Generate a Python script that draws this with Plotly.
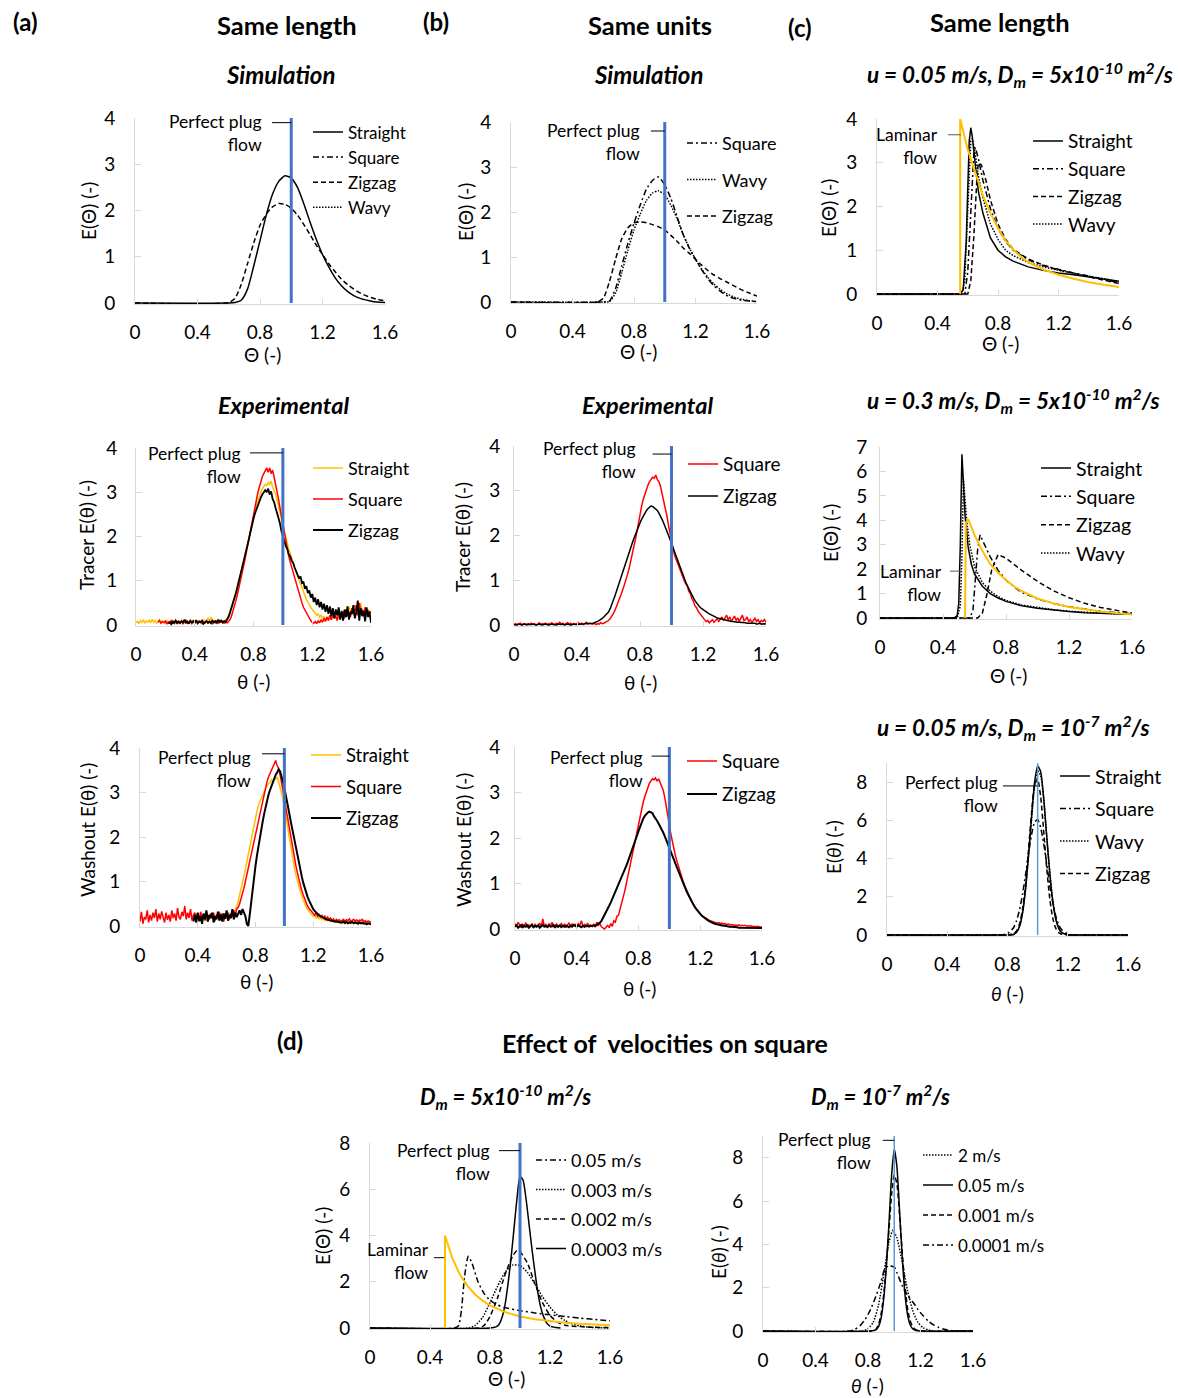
import plotly.graph_objects as go

W, H = 1178, 1398
FONT = "Lato"

THETA_TICKS = [0, 0.4, 0.8, 1.2, 1.6]
THETA_TICK_TEXT = ["0", "0.4", "0.8", "1.2", "1.6"]
PLUG_THETA = 1.0

# ---------------- (a) simulation ----------------
A1_X = [0, 0.60, 0.64, 0.68, 0.72, 0.76, 0.80, 0.84, 0.88, 0.92, 0.96, 1.00, 1.04, 1.08, 1.12,
        1.16, 1.20, 1.24, 1.28, 1.32, 1.36, 1.40, 1.45, 1.50, 1.55, 1.60]
A1_STRAIGHT = [0, 0, 0.01, 0.06, 0.30, 0.80, 1.35, 1.90, 2.35, 2.63, 2.75, 2.70, 2.50, 2.15, 1.75,
               1.38, 1.05, 0.78, 0.55, 0.38, 0.25, 0.16, 0.09, 0.05, 0.02, 0.01]
A1_ZIGZAG = [0, 0.01, 0.10, 0.40, 0.85, 1.30, 1.68, 1.92, 2.08, 2.15, 2.13, 2.05, 1.90, 1.70, 1.48,
             1.25, 1.05, 0.85, 0.68, 0.52, 0.40, 0.30, 0.20, 0.13, 0.08, 0.05]

# ---------------- (b) simulation ----------------
B1_X = A1_X
B1_SQUARE = [0, 0, 0.02, 0.30, 0.80, 1.30, 1.75, 2.15, 2.50, 2.70, 2.78, 2.60, 2.30, 1.90, 1.50,
             1.20, 0.95, 0.72, 0.52, 0.36, 0.24, 0.15, 0.08, 0.04, 0.02, 0.01]
B1_WAVY = [0, 0, 0.01, 0.20, 0.65, 1.15, 1.60, 1.95, 2.25, 2.42, 2.47, 2.38, 2.15, 1.85, 1.50,
           1.20, 0.95, 0.73, 0.55, 0.40, 0.28, 0.19, 0.11, 0.06, 0.03, 0.01]
B1_ZIGZAG_X = [0, 0.56, 0.60, 0.64, 0.68, 0.72, 0.76, 0.80, 0.84, 0.88, 0.92, 0.96, 1.00, 1.04,
               1.08, 1.12, 1.16, 1.20, 1.24, 1.28, 1.32, 1.36, 1.40, 1.45, 1.50, 1.55, 1.60]
B1_ZIGZAG = [0, 0, 0.08, 0.45, 0.95, 1.40, 1.65, 1.76, 1.78, 1.76, 1.72, 1.67, 1.60, 1.48,
             1.35, 1.20, 1.08, 0.95, 0.82, 0.70, 0.60, 0.52, 0.45, 0.36, 0.27, 0.20, 0.13]

# ---------------- (c) u=0.05, Dm=5e-10 ----------------
C1_STRAIGHT_X = [0, 0.55, 0.57, 0.59, 0.60, 0.61, 0.62, 0.63, 0.65, 0.67, 0.70, 0.75, 0.80, 0.85,
                 0.90, 1.00, 1.10, 1.20, 1.30, 1.40, 1.50, 1.60]
C1_STRAIGHT = [0, 0, 0.10, 1.20, 2.40, 3.50, 3.80, 3.60, 2.95, 2.35, 1.85, 1.28, 1.00, 0.85,
               0.75, 0.62, 0.54, 0.48, 0.44, 0.39, 0.34, 0.29]
C1_SQUARE_X = [0, 0.58, 0.60, 0.62, 0.64, 0.65, 0.67, 0.70, 0.75, 0.80, 0.85, 0.90, 1.00, 1.10,
               1.20, 1.30, 1.40, 1.50, 1.60]
C1_SQUARE = [0, 0, 0.50, 2.00, 3.20, 3.35, 3.10, 2.60, 1.95, 1.50, 1.20, 1.00, 0.78, 0.65,
             0.56, 0.48, 0.41, 0.33, 0.26]
C1_ZIGZAG_X = [0, 0.60, 0.62, 0.64, 0.66, 0.67, 0.69, 0.72, 0.75, 0.80, 0.85, 0.90, 1.00, 1.10,
               1.20, 1.30, 1.40, 1.50, 1.60]
C1_ZIGZAG = [0, 0, 0.30, 1.30, 2.60, 3.00, 2.95, 2.60, 2.15, 1.60, 1.25, 1.02, 0.80, 0.66,
             0.55, 0.47, 0.40, 0.32, 0.24]
C1_WAVY_X = [0, 0.56, 0.58, 0.60, 0.61, 0.62, 0.63, 0.65, 0.67, 0.70, 0.75, 0.80, 0.85, 0.90,
             1.00, 1.10, 1.20, 1.30, 1.40, 1.50, 1.60]
C1_WAVY = [0, 0, 0.30, 1.80, 2.90, 3.50, 3.55, 3.20, 2.70, 2.20, 1.60, 1.25, 1.00, 0.88,
           0.72, 0.62, 0.54, 0.47, 0.41, 0.35, 0.28]
C1_LAMINAR_X = [0.55, 0.55, 0.60, 0.65, 0.70, 0.75, 0.80, 0.85, 0.90, 0.95, 1.00, 1.10, 1.20,
                1.30, 1.40, 1.50, 1.60]
C1_LAMINAR = [0, 4.00, 3.30, 2.75, 2.25, 1.85, 1.50, 1.22, 1.02, 0.86, 0.72, 0.56, 0.44,
              0.35, 0.27, 0.21, 0.16]

# ---------------- (c) u=0.3, Dm=5e-10 ----------------
C2_STRAIGHT_X = [0, 0.47, 0.49, 0.50, 0.51, 0.52, 0.53, 0.54, 0.56, 0.58, 0.60, 0.65, 0.70, 0.75,
                 0.80, 0.90, 1.00, 1.10, 1.20, 1.30, 1.40, 1.50, 1.60]
C2_STRAIGHT = [0, 0, 0.10, 0.60, 3.00, 6.70, 5.50, 4.20, 2.90, 2.20, 1.80, 1.30, 1.00, 0.82,
               0.68, 0.50, 0.40, 0.32, 0.27, 0.22, 0.19, 0.17, 0.15]
C2_SQUARE_X = [0, 0.57, 0.59, 0.61, 0.62, 0.635, 0.65, 0.70, 0.75, 0.80, 0.85, 0.90, 1.00, 1.10,
               1.20, 1.30, 1.40, 1.50, 1.60]
C2_SQUARE = [0, 0, 0.30, 1.80, 2.80, 3.40, 3.20, 2.50, 1.95, 1.55, 1.28, 1.05, 0.78, 0.60,
             0.46, 0.36, 0.28, 0.22, 0.17]
C2_ZIGZAG_X = [0, 0.62, 0.65, 0.68, 0.71, 0.75, 0.80, 0.85, 0.90, 1.00, 1.10, 1.20, 1.30, 1.40,
               1.50, 1.60]
C2_ZIGZAG = [0, 0, 0.20, 1.00, 2.00, 2.60, 2.45, 2.20, 1.95, 1.50, 1.12, 0.83, 0.60, 0.43,
             0.30, 0.20]
C2_WAVY_X = [0, 0.49, 0.51, 0.52, 0.53, 0.54, 0.55, 0.57, 0.60, 0.65, 0.70, 0.75, 0.80, 0.90,
             1.00, 1.10, 1.20, 1.30, 1.40, 1.50, 1.60]
C2_WAVY = [0, 0, 0.50, 2.50, 5.70, 5.00, 4.00, 3.00, 2.10, 1.45, 1.10, 0.88, 0.72, 0.53,
           0.42, 0.34, 0.28, 0.23, 0.20, 0.17, 0.15]
C2_LAMINAR_X = [0.54, 0.545, 0.56, 0.60, 0.65, 0.70, 0.75, 0.80, 0.85, 0.90, 1.00, 1.10, 1.20,
                1.30, 1.40, 1.50, 1.60]
C2_LAMINAR = [0, 3.90, 4.05, 3.40, 2.75, 2.20, 1.85, 1.55, 1.30, 1.10, 0.80, 0.60, 0.45,
              0.35, 0.27, 0.20, 0.14]

# ---------------- (c) u=0.05, Dm=1e-7 ----------------
C3_X = [0, 0.76, 0.80, 0.84, 0.86, 0.88, 0.90, 0.92, 0.94, 0.96, 0.98, 1.00, 1.02, 1.04, 1.06,
        1.08, 1.10, 1.12, 1.14, 1.16, 1.20, 1.25, 1.30, 1.60]
C3_STRAIGHT = [0, 0, 0, 0.03, 0.14, 0.45, 1.15, 2.40, 4.20, 6.20, 8.00, 8.85, 8.55, 7.20, 5.20,
               3.30, 1.80, 0.85, 0.35, 0.12, 0.01, 0, 0, 0]
C3_SQUARE = [0, 0, 0.08, 0.38, 0.75, 1.32, 2.15, 3.17, 4.28, 5.26, 5.90, 6.04, 5.63, 4.80, 3.72,
             2.64, 1.71, 1.01, 0.54, 0.27, 0.05, 0.01, 0, 0]
C3_WAVY = [0, 0, 0, 0.03, 0.15, 0.48, 1.20, 2.45, 4.20, 6.10, 7.80, 8.60, 8.35, 7.10, 5.20,
           3.35, 1.85, 0.90, 0.38, 0.13, 0.01, 0, 0, 0]
C3_ZIGZAG = [0, 0, 0.01, 0.07, 0.21, 0.58, 1.35, 2.66, 4.48, 6.42, 7.84, 8.16, 7.24, 5.47, 3.52,
             1.93, 0.90, 0.36, 0.12, 0.04, 0, 0, 0, 0]

# ---------------- (d) Dm=5e-10 ----------------
D1_U005_X = [0, 0.56, 0.59, 0.61, 0.63, 0.655, 0.68, 0.72, 0.76, 0.80, 0.85, 0.90, 1.00, 1.10,
             1.20, 1.30, 1.40, 1.50, 1.60]
D1_U005 = [0, 0, 0.10, 0.80, 2.20, 3.10, 2.80, 2.00, 1.50, 1.20, 1.00, 0.88, 0.75, 0.65,
           0.57, 0.50, 0.43, 0.37, 0.31]
D1_U0003_X = [0, 0.66, 0.70, 0.75, 0.80, 0.85, 0.90, 0.95, 1.00, 1.05, 1.10, 1.15, 1.20, 1.25,
              1.30, 1.35, 1.40, 1.45, 1.50, 1.60]
D1_U0003 = [0, 0, 0.10, 0.45, 1.10, 1.80, 2.40, 2.72, 2.70, 2.40, 1.90, 1.35, 0.90, 0.55,
            0.32, 0.17, 0.09, 0.04, 0.02, 0]
D1_U0002_X = [0, 0.72, 0.76, 0.80, 0.85, 0.90, 0.95, 0.98, 1.00, 1.05, 1.10, 1.15, 1.20, 1.25,
              1.30, 1.35, 1.40, 1.45, 1.50, 1.60]
D1_U0002 = [0, 0, 0.10, 0.50, 1.30, 2.30, 3.10, 3.35, 3.30, 2.80, 1.90, 1.10, 0.55, 0.25,
            0.12, 0.08, 0.06, 0.04, 0.03, 0.02]
D1_U00003_X = [0, 0.80, 0.84, 0.86, 0.88, 0.90, 0.92, 0.94, 0.96, 0.98, 1.00, 1.02, 1.04, 1.06,
               1.08, 1.10, 1.12, 1.14, 1.16, 1.18, 1.20, 1.24, 1.27]
D1_U00003 = [0, 0, 0.05, 0.15, 0.45, 1.00, 1.90, 3.00, 4.30, 5.60, 6.55, 6.40, 5.60, 4.50,
             3.40, 2.40, 1.50, 0.85, 0.45, 0.20, 0.08, 0.02, 0]
D1_LAMINAR_X = [0.50, 0.50, 0.55, 0.60, 0.65, 0.70, 0.75, 0.80, 0.90, 1.00, 1.10, 1.20, 1.30,
                1.40, 1.50, 1.60]
D1_LAMINAR = [0, 4.00, 3.00, 2.30, 1.82, 1.46, 1.18, 0.98, 0.69, 0.50, 0.38, 0.29, 0.23,
              0.18, 0.15, 0.12]

# ---------------- (d) Dm=1e-7 ----------------
D2_U2_X = [0, 0.76, 0.80, 0.84, 0.88, 0.92, 0.96, 0.99, 1.02, 1.06, 1.10, 1.14, 1.18, 1.22,
           1.26, 1.30, 1.60]
D2_U2 = [0, 0, 0.10, 0.40, 1.20, 2.60, 4.10, 4.65, 4.30, 3.20, 1.90, 0.95, 0.40, 0.15,
         0.05, 0, 0]
D2_NARROW_X = [0, 0.82, 0.86, 0.88, 0.90, 0.92, 0.94, 0.96, 0.98, 1.00, 1.02, 1.04, 1.06, 1.08,
               1.10, 1.12, 1.14, 1.16, 1.20, 1.60]
D2_U005 = [0, 0, 0.05, 0.20, 0.60, 1.50, 3.00, 5.00, 7.20, 8.40, 7.60, 5.60, 3.50, 1.80,
           0.80, 0.30, 0.10, 0.03, 0, 0]
D2_U0001 = [0, 0, 0.08, 0.30, 0.80, 1.70, 3.10, 4.70, 6.30, 7.20, 6.80, 5.40, 3.70, 2.20,
            1.10, 0.50, 0.20, 0.07, 0.01, 0]
D2_U00001_X = [0, 0.66, 0.70, 0.74, 0.78, 0.82, 0.86, 0.90, 0.93, 0.96, 1.00, 1.02, 1.06, 1.10,
               1.14, 1.18, 1.22, 1.26, 1.30, 1.34, 1.38, 1.42, 1.46, 1.60]
D2_U00001 = [0, 0, 0.08, 0.25, 0.55, 1.00, 1.60, 2.30, 2.90, 3.00, 2.95, 2.70, 2.10, 1.65,
             1.35, 1.00, 0.70, 0.45, 0.28, 0.16, 0.08, 0.03, 0, 0]

# ---------------- experimental (theta step 0.01) ----------------
ATR_STRAIGHT_START = 0.00
ATR_STRAIGHT = [0.05, 0.08, 0.03, 0.10, 0.06, 0.12, 0.04, 0.09, 0.07, 0.11,
                0.05, 0.13, 0.06, 0.10, 0.04, 0.08, 0.12, 0.05, 0.09, 0.07,
                0.04, 0.10, 0.06, 0.08, 0.03, 0.11, 0.05, 0.07, 0.09, 0.04,
                0.06, 0.10, 0.05, 0.08, 0.12, 0.04, 0.07, 0.09, 0.05, 0.11,
                0.06, 0.08, 0.04, 0.10, 0.07, 0.05, 0.12, 0.06, 0.09, 0.16,
                0.08, 0.18, 0.06, 0.10, 0.05, 0.09, 0.07, 0.11, 0.06, 0.10,
                0.08, 0.12, 0.15, 0.22, 0.30, 0.40, 0.52, 0.62, 0.75, 0.88,
                1.00, 1.12, 1.25, 1.40, 1.55, 1.70, 1.85, 2.00, 2.15, 2.30,
                2.45, 2.58, 2.70, 2.80, 2.92, 3.00, 3.08, 3.12, 3.18, 3.15,
                3.22, 3.18, 3.25, 3.12, 3.05, 2.95, 2.82, 2.70, 2.55, 2.40,
                2.25, 2.10, 1.98, 1.85, 1.72, 1.62, 1.50, 1.42, 1.30, 1.22,
                1.10, 1.02, 0.92, 0.85, 0.75, 0.68, 0.58, 0.52, 0.45, 0.40,
                0.35, 0.30, 0.28, 0.22, 0.25, 0.18, 0.22, 0.15, 0.20, 0.12,
                0.18, 0.10, 0.22, 0.12, 0.25, 0.15, 0.20, 0.28, 0.15, 0.22,
                0.30, 0.18, 0.25, 0.35, 0.20, 0.42, 0.28, 0.35, 0.22, 0.45,
                0.30, 0.38, 0.25, 0.50, 0.32, 0.28, 0.40, 0.22, 0.35, 0.30,
                0.25]
ATR_SQUARE_START = 0.15
ATR_SQUARE = [0.06, 0.10, 0.04, 0.08, 0.05,
              0.09, 0.03, 0.07, 0.05, 0.10, 0.04, 0.08, 0.06, 0.03, 0.09,
              0.05, 0.08, 0.03, 0.07, 0.10, 0.04, 0.06, 0.09, 0.03, 0.07,
              0.05, 0.09, 0.04, 0.06, 0.08, 0.03, 0.07, 0.05, 0.09, 0.04,
              0.06, 0.08, 0.03, 0.07, 0.05, 0.09, 0.04, 0.06, 0.08, 0.05,
              0.04, 0.06, 0.05, 0.08, 0.12, 0.20, 0.30, 0.42, 0.55, 0.68,
              0.82, 0.98, 1.12, 1.28, 1.45, 1.62, 1.80, 1.98, 2.15, 2.32,
              2.50, 2.68, 2.85, 3.00, 3.12, 3.25, 3.35, 3.42, 3.50, 3.55,
              3.45, 3.55, 3.42, 3.50, 3.35, 3.20, 3.05, 2.85, 2.65, 2.45,
              2.25, 2.05, 1.85, 1.70, 1.55, 1.42, 1.30, 1.18, 1.05, 0.92,
              0.80, 0.70, 0.58, 0.50, 0.40, 0.34, 0.26, 0.20, 0.15, 0.10,
              0.06, 0.04, 0.08, 0.03, 0.10, 0.05, 0.12, 0.06, 0.15, 0.08,
              0.18, 0.10, 0.22, 0.12, 0.25, 0.16, 0.20, 0.10, 0.28, 0.15,
              0.22, 0.30, 0.15, 0.35, 0.20, 0.28, 0.18, 0.38, 0.25, 0.30,
              0.45, 0.22, 0.50, 0.28, 0.35, 0.20, 0.40, 0.25, 0.32, 0.28,
              0.30]
ATR_ZIGZAG_START = 0.22
ATR_ZIGZAG = [0.03, 0.06, 0.02, 0.08, 0.04, 0.10, 0.05, 0.07,
              0.04, 0.09, 0.06, 0.12, 0.05, 0.08, 0.03, 0.10, 0.06, 0.09,
              0.05, 0.11, 0.04, 0.08, 0.06, 0.10, 0.03, 0.07, 0.09, 0.05,
              0.08, 0.04, 0.10, 0.06, 0.09, 0.05, 0.12, 0.07, 0.10, 0.06,
              0.09, 0.07, 0.12, 0.18, 0.28, 0.38, 0.48, 0.60, 0.72, 0.85,
              0.98, 1.10, 1.25, 1.38, 1.52, 1.68, 1.82, 1.98, 2.12, 2.28,
              2.40, 2.52, 2.62, 2.72, 2.80, 2.88, 2.95, 3.00, 3.05, 3.00,
              3.08, 2.95, 3.02, 2.85, 2.78, 2.65, 2.55, 2.42, 2.30, 2.12,
              1.98, 1.90, 1.78, 1.72, 1.60, 1.55, 1.45, 1.40, 1.30, 1.22,
              1.15, 1.05, 1.10, 0.95, 0.98, 0.82, 0.88, 0.72, 0.78, 0.62,
              0.70, 0.52, 0.62, 0.45, 0.58, 0.40, 0.52, 0.35, 0.48, 0.30,
              0.45, 0.25, 0.42, 0.20, 0.38, 0.15, 0.35, 0.22, 0.40, 0.12,
              0.32, 0.10, 0.35, 0.18, 0.42, 0.12, 0.30, 0.25, 0.45, 0.15,
              0.28, 0.55, 0.10, 0.38, 0.20, 0.32, 0.08, 0.40, 0.18, 0.30,
              0.05]

BTR_SQUARE_START = 0.00
BTR_SQUARE = [0.01, 0.03, 0.00, 0.02, 0.04, 0.01, 0.03, 0.02, 0.00, 0.03,
              0.02, 0.04, 0.01, 0.03, 0.00, 0.02, 0.05, 0.01, 0.03, 0.02,
              0.04, 0.01, 0.03, 0.02, 0.05, 0.01, 0.03, 0.04, 0.02, 0.06,
              0.02, 0.04, 0.01, 0.03, 0.05, 0.02, 0.04, 0.01, 0.03, 0.02,
              0.03, 0.05, 0.02, 0.04, 0.01, 0.03, 0.06, 0.02, 0.04, 0.03,
              0.02, 0.04, 0.01, 0.03, 0.02, 0.05, 0.03, 0.04, 0.06, 0.08,
              0.10, 0.14, 0.19, 0.25, 0.32, 0.40, 0.49, 0.58, 0.68, 0.78,
              0.88, 1.00, 1.12, 1.25, 1.40, 1.55, 1.72, 1.90, 2.08, 2.30,
              2.48, 2.65, 2.80, 2.92, 3.05, 3.12, 3.20, 3.25, 3.30, 3.28,
              3.35, 3.25, 3.20, 3.10, 2.95, 2.80, 2.62, 2.45, 2.25, 2.05,
              1.85, 1.70, 1.55, 1.45, 1.35, 1.25, 1.18, 1.10, 1.00, 0.92,
              0.88, 0.75, 0.70, 0.58, 0.52, 0.42, 0.38, 0.30, 0.25, 0.20,
              0.15, 0.12, 0.08, 0.10, 0.05, 0.08, 0.12, 0.06, 0.10, 0.14,
              0.08, 0.12, 0.18, 0.10, 0.15, 0.22, 0.12, 0.18, 0.08, 0.15,
              0.20, 0.10, 0.16, 0.08, 0.14, 0.22, 0.10, 0.12, 0.18, 0.08,
              0.12, 0.06, 0.10, 0.15, 0.08, 0.12, 0.05, 0.10, 0.08, 0.12,
              0.06]
BTR_ZIGZAG_START = 0.00
BTR_ZIGZAG = [0.01, 0.00, 0.01, 0.02, 0.01, 0.00, 0.01, 0.02, 0.01, 0.01,
              0.00, 0.01, 0.02, 0.01, 0.00, 0.01, 0.02, 0.01, 0.00, 0.01,
              0.02, 0.01, 0.00, 0.01, 0.02, 0.01, 0.01, 0.00, 0.02, 0.01,
              0.01, 0.02, 0.00, 0.01, 0.02, 0.01, 0.00, 0.01, 0.02, 0.01,
              0.01, 0.02, 0.01, 0.02, 0.02, 0.03, 0.03, 0.04, 0.04, 0.04,
              0.04, 0.05, 0.06, 0.08, 0.10, 0.12, 0.15, 0.18, 0.21, 0.25,
              0.29, 0.36, 0.44, 0.54, 0.64, 0.75, 0.86, 0.97, 1.09, 1.21,
              1.32, 1.42, 1.52, 1.62, 1.72, 1.82, 1.92, 2.02, 2.12, 2.20,
              2.28, 2.36, 2.43, 2.50, 2.55, 2.60, 2.63, 2.66, 2.65, 2.62,
              2.60, 2.56, 2.50, 2.44, 2.36, 2.28, 2.20, 2.10, 2.00, 1.92,
              1.82, 1.72, 1.62, 1.52, 1.42, 1.32, 1.22, 1.13, 1.04, 0.96,
              0.88, 0.80, 0.73, 0.66, 0.60, 0.54, 0.49, 0.44, 0.40, 0.37,
              0.34, 0.31, 0.29, 0.27, 0.25, 0.23, 0.21, 0.19, 0.18, 0.16,
              0.15, 0.14, 0.13, 0.12, 0.11, 0.10, 0.10, 0.09, 0.08, 0.08,
              0.07, 0.07, 0.06, 0.06, 0.06, 0.05, 0.05, 0.05, 0.04, 0.04,
              0.03, 0.04, 0.03, 0.04, 0.02, 0.03, 0.04, 0.02, 0.03, 0.03,
              0.02]

AWO_SQUARE_START = 0.00
AWO_SQUARE = [0.10, 0.32, 0.05, 0.20, 0.15, 0.35, 0.08, 0.25, 0.12, 0.30,
              0.18, 0.38, 0.10, 0.28, 0.15, 0.33, 0.20, 0.08, 0.30, 0.14,
              0.25, 0.10, 0.35, 0.18, 0.28, 0.12, 0.40, 0.20, 0.15, 0.32,
              0.22, 0.45, 0.15, 0.30, 0.18, 0.38, 0.12, 0.25, 0.30, 0.15,
              0.28, 0.10, 0.32, 0.18, 0.25, 0.12, 0.30, 0.20, 0.15, 0.28,
              0.18, 0.30, 0.12, 0.25, 0.20, 0.32, 0.15, 0.28, 0.10, 0.26,
              0.20, 0.30, 0.15, 0.28, 0.22, 0.35, 0.25, 0.38, 0.42, 0.50,
              0.60, 0.72, 0.85, 1.00, 1.15, 1.30, 1.45, 1.62, 1.78, 1.95,
              2.10, 2.25, 2.40, 2.55, 2.70, 2.85, 3.00, 3.12, 3.25, 3.35,
              3.42, 3.50, 3.55, 3.62, 3.72, 3.60, 3.55, 3.40, 3.25, 3.05,
              2.85, 2.65, 2.45, 2.25, 2.05, 1.85, 1.68, 1.50, 1.35, 1.20,
              1.05, 0.92, 0.80, 0.70, 0.60, 0.52, 0.45, 0.40, 0.35, 0.30,
              0.28, 0.24, 0.30, 0.22, 0.26, 0.20, 0.24, 0.18, 0.22, 0.16,
              0.20, 0.15, 0.18, 0.12, 0.16, 0.10, 0.15, 0.12, 0.14, 0.10,
              0.12, 0.15, 0.10, 0.14, 0.12, 0.16, 0.10, 0.13, 0.15, 0.11,
              0.14, 0.10, 0.13, 0.12, 0.15, 0.10, 0.12, 0.09, 0.11, 0.10,
              0.08]
AWO_STRAIGHT_START = 0.38
AWO_STRAIGHT = [0.12, 0.20,
                0.15, 0.25, 0.10, 0.22, 0.18, 0.28, 0.12, 0.20, 0.15, 0.25,
                0.18, 0.22, 0.10, 0.26, 0.15, 0.20, 0.28, 0.12, 0.22, 0.18,
                0.25, 0.15, 0.30, 0.20, 0.32, 0.25, 0.38, 0.45, 0.55, 0.68,
                0.82, 0.98, 1.12, 1.28, 1.45, 1.62, 1.80, 1.98, 2.15, 2.30,
                2.45, 2.58, 2.70, 2.80, 2.88, 2.95, 3.02, 3.10, 3.15, 3.20,
                3.22, 3.28, 3.25, 3.32, 3.30, 3.35, 3.25, 3.15, 3.00, 2.85,
                2.65, 2.45, 2.22, 2.02, 1.82, 1.62, 1.45, 1.30, 1.15, 1.00,
                0.88, 0.78, 0.68, 0.58, 0.50, 0.43, 0.38, 0.33, 0.28, 0.25,
                0.22, 0.25, 0.18, 0.22, 0.16, 0.20, 0.14, 0.18, 0.12, 0.15,
                0.12, 0.14, 0.10, 0.13, 0.09, 0.12, 0.08, 0.11, 0.07, 0.10,
                0.06, 0.09, 0.05, 0.08, 0.06, 0.10, 0.07, 0.09, 0.06, 0.08,
                0.07, 0.09, 0.06, 0.08, 0.10, 0.07, 0.09, 0.06, 0.08, 0.07,
                0.06]
AWO_ZIGZAG_START = 0.37
AWO_ZIGZAG = [0.10, 0.25, 0.08,
              0.30, 0.12, 0.22, 0.05, 0.28, 0.15, 0.35, 0.10, 0.25, 0.18,
              0.30, 0.08, 0.22, 0.15, 0.32, 0.12, 0.26, 0.10, 0.28, 0.16,
              0.35, 0.12, 0.25, 0.18, 0.38, 0.15, 0.30, 0.20, 0.28, 0.35,
              0.25, 0.38, 0.30, 0.22, 0.05, 0.00, 0.25, 0.55, 0.85, 1.10,
              1.35, 1.58, 1.80, 2.00, 2.18, 2.35, 2.52, 2.68, 2.82, 2.95,
              3.05, 3.15, 3.25, 3.32, 3.40, 3.45, 3.52, 3.48, 3.38, 3.25,
              3.10, 2.95, 2.78, 2.60, 2.42, 2.25, 2.08, 1.90, 1.72, 1.56,
              1.40, 1.25, 1.12, 0.98, 0.86, 0.75, 0.66, 0.58, 0.50, 0.44,
              0.38, 0.34, 0.30, 0.27, 0.24, 0.22, 0.20, 0.18, 0.17, 0.15,
              0.14, 0.13, 0.12, 0.12, 0.11, 0.10, 0.10, 0.09, 0.09, 0.08,
              0.08, 0.10, 0.07, 0.09, 0.06, 0.08, 0.07, 0.09, 0.06, 0.08,
              0.07, 0.05, 0.08, 0.06, 0.07, 0.05, 0.06, 0.04, 0.06, 0.05,
              0.04]

BWO_SQUARE_START = 0.00
BWO_SQUARE = [0.12, 0.05, 0.15, 0.08, 0.03, 0.10, 0.06, 0.14, 0.04, 0.09,
              0.07, 0.12, 0.03, 0.10, 0.06, 0.08, 0.13, 0.05, 0.22, 0.06,
              0.10, 0.04, 0.12, 0.07, 0.15, 0.05, 0.09, 0.11, 0.04, 0.08,
              0.12, 0.06, 0.10, 0.03, 0.09, 0.14, 0.05, 0.11, 0.07, 0.10,
              0.05, 0.12, 0.08, 0.18, 0.06, 0.10, 0.04, 0.13, 0.07, 0.09,
              0.06, 0.11, 0.04, 0.15, 0.08, 0.12, 0.05, 0.02, 0.00, 0.04,
              0.08, 0.03, 0.12, 0.06, 0.18, 0.15, 0.28, 0.30, 0.42, 0.55,
              0.68, 0.82, 0.98, 1.15, 1.32, 1.48, 1.65, 1.82, 1.98, 2.15,
              2.32, 2.48, 2.62, 2.78, 2.90, 3.02, 3.12, 3.20, 3.25, 3.30,
              3.28, 3.32, 3.25, 3.30, 3.22, 3.15, 3.05, 2.90, 2.72, 2.50,
              2.28, 2.08, 1.90, 1.75, 1.60, 1.48, 1.36, 1.25, 1.14, 1.04,
              0.95, 0.86, 0.78, 0.70, 0.63, 0.57, 0.51, 0.46, 0.41, 0.37,
              0.33, 0.30, 0.27, 0.25, 0.22, 0.21, 0.19, 0.18, 0.16, 0.15,
              0.15, 0.13, 0.14, 0.12, 0.13, 0.11, 0.12, 0.10, 0.11, 0.10,
              0.09, 0.10, 0.08, 0.09, 0.08, 0.09, 0.07, 0.08, 0.07, 0.08,
              0.06, 0.07, 0.06, 0.07, 0.05, 0.06, 0.05, 0.06, 0.05, 0.05,
              0.04]
BWO_ZIGZAG_START = 0.00
BWO_ZIGZAG = [0.05, 0.08, 0.03, 0.06, 0.09, 0.04, 0.07, 0.05, 0.08, 0.03,
              0.06, 0.09, 0.04, 0.07, 0.05, 0.08, 0.03, 0.06, 0.09, 0.05,
              0.07, 0.04, 0.08, 0.05, 0.06, 0.09, 0.04, 0.07, 0.05, 0.08,
              0.04, 0.07, 0.05, 0.08, 0.06, 0.04, 0.07, 0.05, 0.09, 0.06,
              0.05, 0.08, 0.06, 0.04, 0.07, 0.05, 0.08, 0.06, 0.05, 0.07,
              0.06, 0.08, 0.07, 0.09, 0.11, 0.14, 0.18, 0.24, 0.30, 0.37,
              0.44, 0.51, 0.58, 0.66, 0.74, 0.82, 0.90, 0.98, 1.06, 1.14,
              1.18, 1.28, 1.38, 1.47, 1.56, 1.65, 1.75, 1.85, 1.95, 2.05,
              2.15, 2.25, 2.34, 2.42, 2.48, 2.53, 2.56, 2.58, 2.57, 2.55,
              2.48, 2.44, 2.38, 2.32, 2.26, 2.19, 2.12, 2.04, 1.96, 1.88,
              1.79, 1.70, 1.61, 1.52, 1.43, 1.34, 1.25, 1.16, 1.08, 1.00,
              0.92, 0.84, 0.77, 0.70, 0.63, 0.57, 0.51, 0.46, 0.41, 0.37,
              0.33, 0.29, 0.26, 0.23, 0.21, 0.19, 0.17, 0.15, 0.14, 0.12,
              0.11, 0.10, 0.09, 0.09, 0.08, 0.07, 0.07, 0.06, 0.06, 0.05,
              0.05, 0.05, 0.04, 0.04, 0.04, 0.03, 0.03, 0.03, 0.03, 0.03,
              0.02, 0.02, 0.02, 0.02, 0.02, 0.02, 0.02, 0.02, 0.02, 0.02,
              0.02]


def grid(start, vals):
    return [round(start + 0.01 * k, 2) for k in range(len(vals))]


BLACK = "#000000"
YELLOW = "#FFC000"
RED = "#FF0000"
BLUE = "#4472C4"
BLUE_THIN = "#5B9BD5"
AXIS_GREY = "#D9D9D9"
DASHES = {"solid": "solid", "dashdot": "6px,3px,2px,3px", "dash": "5px,3px", "dot": "1.5px,1.5px"}

TICK_SIZE = 19
AX_TITLE = 19
CALLOUT = 17.5
SUBTITLE = 22.5

fig = go.Figure()
annotations = []
shapes = []


def ref(i, letter):
    return letter if i == 1 else f"{letter}{i}"


def px_x(p):
    return p / W


def px_y(p):
    return 1 - p / H


def text(x, y, s, size, xanchor="center", yanchor="middle", angle=0, align="center"):
    annotations.append(dict(x=px_x(x), y=px_y(y), xref="paper", yref="paper", text=s,
                            showarrow=False, textangle=angle, align=align,
                            xanchor=xanchor, yanchor=yanchor,
                            font=dict(family=FONT, size=size, color="#000")))


def line_trace(i, x, y, name, color, dash="solid", width=1.5, legend=True, shape="linear"):
    fig.add_trace(go.Scatter(
        x=x, y=y, mode="lines", name=name, showlegend=legend,
        legend="legend" if i == 1 else f"legend{i}", legendgroup=f"{i}-{name}",
        line=dict(color=color, width=width, dash=DASHES[dash], shape=shape,
                  smoothing=0.6 if shape == "spline" else None),
        xaxis=ref(i, "x"), yaxis=ref(i, "y"), hoverinfo="skip"))


def legend_only(i, name, dash):
    line_trace(i, [None], [None], name, BLACK, dash)


def panel(i, box, ymax, yticks, ygap):
    l, r, t, b = box
    ymin = -ymax / (b - t) * 1.0
    common = dict(showgrid=False, zeroline=False, showline=True, linecolor=AXIS_GREY, linewidth=1,
                  ticks="inside", tickcolor=AXIS_GREY, fixedrange=True,
                  tickfont=dict(family=FONT, size=TICK_SIZE, color="#000"))
    fig.layout["xaxis" if i == 1 else f"xaxis{i}"] = dict(
        domain=[px_x(l), px_x(r)], range=[0, 1.6], anchor=ref(i, "y"),
        tickvals=THETA_TICKS, ticktext=THETA_TICK_TEXT, ticklen=5, ticklabelstandoff=11, **common)
    fig.layout["yaxis" if i == 1 else f"yaxis{i}"] = dict(
        domain=[px_y(b), px_y(t)], range=[ymin, ymax], anchor=ref(i, "x"),
        tickvals=yticks, ticklen=6, ticklabelstandoff=max(0, ygap - 5), **common)


def plug(i, ymax, thin=False):
    line_trace(i, [PLUG_THETA, PLUG_THETA], [0, ymax], "plug", BLUE_THIN if thin else BLUE,
               width=1.5 if thin else 3, legend=False)


def leader(i, x0, x1, y, color="#000"):
    shapes.append(dict(type="line", xref=ref(i, "x"), yref=ref(i, "y"), x0=x0, x1=x1, y0=y, y1=y,
                       line=dict(color=color, width=1)))


def legend_box(i, sample_left, first_center, spacing, size):
    item_h = size * 1.3 + 3
    gap = max(0, spacing - item_h)
    fig.layout["legend" if i == 1 else f"legend{i}"] = dict(
        x=px_x(sample_left - 7), y=px_y(first_center - 4 - item_h / 2 - 1),
        xanchor="left", yanchor="top", bgcolor="rgba(0,0,0,0)", borderwidth=0,
        traceorder="grouped", tracegroupgap=gap, itemwidth=30,
        font=dict(family=FONT, size=size, color="#000"))


SIM_Y = "E(Θ) (-)"
SIM_X = "Θ (-)"
PLUG_TXT = "Perfect plug<br>flow"
LAM_TXT = "Laminar<br>flow"

# ---- headers ----
text(25, 22, "<b>(a)</b>", 24)
text(287, 25, "<b>Same length</b>", 25.5)
text(436, 22, "<b>(b)</b>", 24)
text(650, 25, "<b>Same units</b>", 25.5)
text(800, 27, "<b>(c)</b>", 24)
text(1000, 22, "<b>Same length</b>", 25.5)
text(290, 1040, "<b>(d)</b>", 24)
text(665, 1043, "<b>Effect of  velocities on square</b>", 25)

text(280, 74, "<b><i>Simulation</i></b>", 24)
text(648, 74, "<b><i>Simulation</i></b>", 24)
text(1020, 75, "<b><i>u = 0.05 m/s, D<sub>m</sub> = 5x10<sup>-10</sup> m<sup>2</sup>/s</i></b>", SUBTITLE)
text(283, 405, "<b><i>Experimental</i></b>", 23.5)
text(647, 405, "<b><i>Experimental</i></b>", 23.5)
text(1013, 400, "<b><i>u = 0.3 m/s, D<sub>m</sub> = 5x10<sup>-10</sup> m<sup>2</sup>/s</i></b>", SUBTITLE)
text(1013, 727, "<b><i>u = 0.05 m/s, D<sub>m</sub> = 10<sup>-7</sup> m<sup>2</sup>/s</i></b>", SUBTITLE)
text(505, 1097, "<b><i>D<sub>m</sub> = 5x10<sup>-10</sup> m<sup>2</sup>/s</i></b>", 22)
text(880, 1097, "<b><i>D<sub>m</sub> = 10<sup>-7</sup> m<sup>2</sup>/s</i></b>", 22)

# ---- panel 1: (a) simulation ----
panel(1, (135, 385, 118, 304), 4, [0, 1, 2, 3, 4], 20)
line_trace(1, A1_X, A1_STRAIGHT, "Straight", BLACK, shape="spline")
legend_only(1, "Square", "dashdot")
line_trace(1, A1_X, A1_ZIGZAG, "Zigzag", BLACK, "dash", shape="spline")
legend_only(1, "Wavy", "dot")
plug(1, 4)
legend_box(1, 315, 132, 25, 17)
text(264, 132.5, PLUG_TXT, CALLOUT, xanchor="right", align="right")
leader(1, 0.877, 1.0, 3.9)
text(88, 211, SIM_Y, AX_TITLE, angle=-90)
text(262, 354, SIM_X, AX_TITLE)

# ---- panel 2: (b) simulation ----
panel(2, (511, 757, 122, 303), 4, [0, 1, 2, 3, 4], 20)
line_trace(2, B1_X, B1_SQUARE, "Square", BLACK, "dashdot", shape="spline")
line_trace(2, B1_X, B1_WAVY, "Wavy", BLACK, "dot", shape="spline")
line_trace(2, B1_ZIGZAG_X, B1_ZIGZAG, "Zigzag", BLACK, "dash", shape="spline")
plug(2, 4)
legend_box(2, 689, 143, 36.5, 18)
text(642, 141.5, PLUG_TXT, CALLOUT, xanchor="right", align="right")
leader(2, 0.91, 1.0, 3.8)
text(465, 212, SIM_Y, AX_TITLE, angle=-90)
text(638, 351, SIM_X, AX_TITLE)

# ---- panel 3: (c) u=0.05 ----
panel(3, (877, 1119, 119, 295), 4, [0, 1, 2, 3, 4], 20)
line_trace(3, C1_STRAIGHT_X, C1_STRAIGHT, "Straight", BLACK)
line_trace(3, C1_SQUARE_X, C1_SQUARE, "Square", BLACK, "dashdot")
line_trace(3, C1_ZIGZAG_X, C1_ZIGZAG, "Zigzag", BLACK, "dash")
line_trace(3, C1_WAVY_X, C1_WAVY, "Wavy", BLACK, "dot")
line_trace(3, C1_LAMINAR_X, C1_LAMINAR, "Laminar", YELLOW, width=2, legend=False)
legend_box(3, 1035, 141, 27, 19)
text(940, 146, LAM_TXT, CALLOUT, xanchor="right", align="right")
leader(3, 0.47, 0.555, 3.64, "#595959")
text(829, 208, SIM_Y, AX_TITLE, angle=-90)
text(1000, 343, SIM_X, AX_TITLE)

# ---- panel 4: (a) tracer ----
panel(4, (136, 371, 448, 626), 4, [0, 1, 2, 3, 4], 19)
line_trace(4, grid(ATR_STRAIGHT_START, ATR_STRAIGHT), ATR_STRAIGHT, "Straight", YELLOW)
line_trace(4, grid(ATR_SQUARE_START, ATR_SQUARE), ATR_SQUARE, "Square", RED)
line_trace(4, grid(ATR_ZIGZAG_START, ATR_ZIGZAG), ATR_ZIGZAG, "Zigzag", BLACK, width=1.8)
plug(4, 4)
legend_box(4, 315, 468, 31, 18)
text(243, 465, PLUG_TXT, CALLOUT, xanchor="right", align="right")
leader(4, 0.776, 1.0, 3.89)
text(87, 535, "Tracer E(θ) (-)", AX_TITLE, angle=-90)
text(253, 681, "θ (-)", AX_TITLE)

# ---- panel 5: (b) tracer ----
panel(5, (514, 766, 446, 626), 4, [0, 1, 2, 3, 4], 14)
line_trace(5, grid(BTR_SQUARE_START, BTR_SQUARE), BTR_SQUARE, "Square", RED)
line_trace(5, grid(BTR_ZIGZAG_START, BTR_ZIGZAG), BTR_ZIGZAG, "Zigzag", BLACK)
plug(5, 4)
legend_box(5, 690, 464, 32, 19)
text(638, 460.5, PLUG_TXT, CALLOUT, xanchor="right", align="right")
leader(5, 0.88, 1.0, 3.82)
text(462, 537, "Tracer E(θ) (-)", AX_TITLE, angle=-90)
text(640, 683, "θ (-)", AX_TITLE)

# ---- panel 6: (c) u=0.3 ----
panel(6, (880, 1132, 447, 619), 7, [0, 1, 2, 3, 4, 5, 6, 7], 13)
line_trace(6, C2_STRAIGHT_X, C2_STRAIGHT, "Straight", BLACK)
line_trace(6, C2_SQUARE_X, C2_SQUARE, "Square", BLACK, "dashdot")
line_trace(6, C2_ZIGZAG_X, C2_ZIGZAG, "Zigzag", BLACK, "dash")
line_trace(6, C2_WAVY_X, C2_WAVY, "Wavy", BLACK, "dot")
line_trace(6, C2_LAMINAR_X, C2_LAMINAR, "Laminar", YELLOW, width=2, legend=False)
legend_box(6, 1043, 468, 27.5, 19.5)
text(944, 583, LAM_TXT, CALLOUT, xanchor="right", align="right")
leader(6, 0.444, 0.52, 1.92, "#595959")
text(830, 533, SIM_Y, AX_TITLE, angle=-90)
text(1008, 675, SIM_X, AX_TITLE)

# ---- panel 7: (a) washout ----
panel(7, (140, 371, 748, 927), 4, [0, 1, 2, 3, 4], 20)
line_trace(7, grid(AWO_STRAIGHT_START, AWO_STRAIGHT), AWO_STRAIGHT, "Straight", YELLOW)
line_trace(7, grid(AWO_SQUARE_START, AWO_SQUARE), AWO_SQUARE, "Square", RED)
line_trace(7, grid(AWO_ZIGZAG_START, AWO_ZIGZAG), AWO_ZIGZAG, "Zigzag", BLACK, width=2)
plug(7, 4)
legend_box(7, 313, 755, 31.5, 18.5)
text(253, 768.5, PLUG_TXT, CALLOUT, xanchor="right", align="right")
leader(7, 0.845, 1.0, 3.87)
text(87, 830, "Washout E(θ) (-)", AX_TITLE, angle=-90)
text(256, 982, "θ (-)", AX_TITLE)

# ---- panel 8: (b) washout ----
panel(8, (515, 762, 747, 930), 4, [0, 1, 2, 3, 4], 15)
line_trace(8, grid(BWO_SQUARE_START, BWO_SQUARE), BWO_SQUARE, "Square", RED)
line_trace(8, grid(BWO_ZIGZAG_START, BWO_ZIGZAG), BWO_ZIGZAG, "Zigzag", BLACK, width=2)
plug(8, 4)
legend_box(8, 689, 761, 33, 19)
text(645, 769, PLUG_TXT, CALLOUT, xanchor="right", align="right")
leader(8, 0.885, 1.0, 3.8)
text(463, 840, "Washout E(θ) (-)", AX_TITLE, angle=-90)
text(639, 988, "θ (-)", AX_TITLE)

# ---- panel 9: (c) Dm=1e-7 ----
panel(9, (887, 1128, 763, 936), 9, [0, 2, 4, 6, 8], 20)
line_trace(9, C3_X, C3_STRAIGHT, "Straight", BLACK, shape="spline")
line_trace(9, C3_X, C3_SQUARE, "Square", BLACK, "dashdot", shape="spline")
line_trace(9, C3_X, C3_WAVY, "Wavy", BLACK, "dot", shape="spline")
line_trace(9, C3_X, C3_ZIGZAG, "Zigzag", BLACK, "dash", shape="spline")
plug(9, 9, thin=True)
legend_box(9, 1062, 776, 32.5, 19.5)
text(1000, 794, PLUG_TXT, CALLOUT, xanchor="right", align="right")
leader(9, 0.77, 1.0, 7.8)
text(833, 847, "E(<i>θ</i>) (-)", AX_TITLE, angle=-90)
text(1007, 993, "<i>θ</i> (-)", AX_TITLE)

# ---- panel 10: (d) Dm=5e-10 ----
panel(10, (370, 610, 1143, 1329), 8, [0, 2, 4, 6, 8], 20)
line_trace(10, D1_U005_X, D1_U005, "0.05 m/s", BLACK, "dashdot", shape="spline")
line_trace(10, D1_U0003_X, D1_U0003, "0.003 m/s", BLACK, "dot", shape="spline")
line_trace(10, D1_U0002_X, D1_U0002, "0.002 m/s", BLACK, "dash", shape="spline")
line_trace(10, D1_U00003_X, D1_U00003, "0.0003 m/s", BLACK, shape="spline")
line_trace(10, D1_LAMINAR_X, D1_LAMINAR, "Laminar", YELLOW, width=2, legend=False)
plug(10, 8)
legend_box(10, 538, 1160, 29.5, 18)
text(492, 1162, PLUG_TXT, CALLOUT, xanchor="right", align="right")
leader(10, 0.86, 1.0, 7.67)
text(431, 1261, LAM_TXT, CALLOUT, xanchor="right", align="right")
leader(10, 0.427, 0.495, 3.04)
text(322, 1236, SIM_Y, AX_TITLE, angle=-90)
text(506, 1378, SIM_X, AX_TITLE)

# ---- panel 11: (d) Dm=1e-7 ----
panel(11, (763, 973, 1136, 1332), 9, [0, 2, 4, 6, 8], 20)
line_trace(11, D2_U2_X, D2_U2, "2 m/s", BLACK, "dot", shape="spline")
line_trace(11, D2_NARROW_X, D2_U005, "0.05 m/s", BLACK, shape="spline")
line_trace(11, D2_NARROW_X, D2_U0001, "0.001 m/s", BLACK, "dash", shape="spline")
line_trace(11, D2_U00001_X, D2_U00001, "0.0001 m/s", BLACK, "dashdot", shape="spline")
plug(11, 9, thin=True)
legend_box(11, 925, 1155, 30, 17)
text(873, 1151, PLUG_TXT, CALLOUT, xanchor="right", align="right")
leader(11, 0.912, 1.0, 8.8)
text(718, 1252, "E(<i>θ</i>) (-)", AX_TITLE, angle=-90)
text(867, 1385, "<i>θ</i> (-)", AX_TITLE)

fig.update_layout(width=W, height=H,
                  margin=dict(l=0, r=0, t=0, b=0, pad=0, autoexpand=False),
                  paper_bgcolor="white", plot_bgcolor="rgba(0,0,0,0)",
                  font=dict(family=FONT, size=16, color="#000"),
                  showlegend=True, annotations=annotations, shapes=shapes)

fig.write_html("out.html", config={"displayModeBar": False, "staticPlot": False},
               post_script="document.body.style.margin='0px';document.body.style.overflow='hidden';")
